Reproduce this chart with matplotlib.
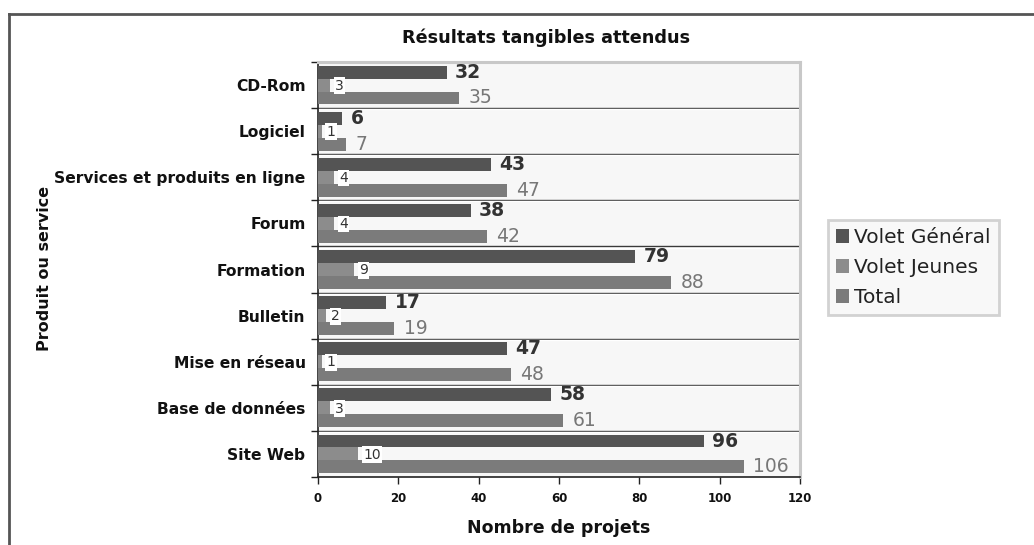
import matplotlib
matplotlib.use("Agg")
import matplotlib.pyplot as plt
from matplotlib.lines import Line2D
import numpy as np

plt.rcParams['font.family'] = ['DejaVu Sans']

categories = ["CD-Rom", "Logiciel", "Services et produits en ligne", "Forum",
              "Formation", "Bulletin", "Mise en réseau", "Base de données", "Site Web"]
general = [32, 6, 43, 38, 79, 17, 47, 58, 96]
jeunes = [3, 1, 4, 4, 9, 2, 1, 3, 10]
total = [35, 7, 47, 42, 88, 19, 48, 61, 106]
series_names = ["Volet Général", "Volet Jeunes", "Total"]
xticks = [0, 20, 40, 60, 80, 100, 120]

c_gen, c_jeu, c_tot = "#545454", "#8c8c8c", "#7b7b7b"

fig = plt.figure(figsize=(10.34, 5.45), dpi=100)
fig.patch.set_facecolor("white")
ax = fig.add_axes([318/1034, 1-477/545, (800-318)/1034, (477-62)/545])
ax.set_facecolor("#f7f7f7")

n = len(categories)
y = np.arange(n)
h = 0.28
ax.barh(y - h, general, height=h, color=c_gen, label=series_names[0], zorder=3)
ax.barh(y, jeunes, height=h, color=c_jeu, label=series_names[1], zorder=3)
ax.barh(y + h, total, height=h, color=c_tot, label=series_names[2], zorder=3)

for i in range(n):
    ax.annotate(str(general[i]), (general[i], y[i] - h), xytext=(6, 0), textcoords="offset points",
                va="center", ha="left", fontsize=13.5, fontweight="bold", color="#333333", zorder=5)
    ax.annotate(str(jeunes[i]), (jeunes[i], y[i]), xytext=(3.5, -0.5), textcoords="offset points",
                va="center", ha="left", fontsize=10, color="#333333", zorder=5,
                bbox=dict(boxstyle="square,pad=0.1", fc="white", ec="none"))
    ax.annotate(str(total[i]), (total[i], y[i] + h), xytext=(7, 0), textcoords="offset points",
                va="center", ha="left", fontsize=13.5, color="#777777", zorder=5)

ax.set_ylim(n - 0.5, -0.5)
ax.set_xlim(0, 120)
for b in np.arange(0.5, n - 0.5, 1):
    ax.axhline(b, color="#3a3a3a", lw=1.0, zorder=2)
    ax.axhline(b + 0.025, color="white", lw=1.0, zorder=2)

ax.set_yticks(y)
ax.set_yticklabels(categories, fontsize=11.2, fontweight="bold", color="#111111")
ax.set_yticks(np.arange(-0.5, n, 1), minor=True)
ax.tick_params(axis="y", which="major", length=0, pad=9)
ax.tick_params(axis="y", which="minor", length=5, width=1, color="#222222", direction="out")
ax.set_xticks(xticks)
ax.set_xticklabels([str(t) for t in xticks], fontsize=8.5, fontweight="bold", color="#111111")
ax.tick_params(axis="x", length=5, width=1, color="#222222", direction="out", pad=6)

for s in ["top", "right"]:
    ax.spines[s].set_color("#c8c8c8")
    ax.spines[s].set_linewidth(2.2)
for s in ["left", "bottom"]:
    ax.spines[s].set_color("#222222")
    ax.spines[s].set_linewidth(1.2)

fig.text(546/1034, 1-38/545, "Résultats tangibles attendus", ha="center", va="center",
         fontsize=12.7, fontweight="bold", color="#111111")
ax.set_xlabel("Nombre de projets", fontsize=12.5, fontweight="bold", labelpad=10, color="#111111")
fig.text(45/1034, 1-268/545, "Produit ou service", rotation=90, ha="center", va="center",
         fontsize=11.5, fontweight="bold", color="#111111")

leg = fig.legend(loc="upper left", bbox_to_anchor=(828/1034, 1-220/545), fontsize=14.5,
                 frameon=True, fancybox=False, handlelength=0.65, handleheight=0.65,
                 handletextpad=0.25, borderpad=0.4, labelspacing=0.55, borderaxespad=0)
leg.get_frame().set_edgecolor("#c8c8c8")
leg.get_frame().set_linewidth(2)
leg.get_frame().set_facecolor("#f7f7f7")
for t in leg.get_texts():
    t.set_color("#222222")

fig.add_artist(Line2D([9/1034, 1], [1-14/545, 1-14/545], color="#555555", lw=2, transform=fig.transFigure))
fig.add_artist(Line2D([9/1034, 9/1034], [1-14/545, 0], color="#555555", lw=2, transform=fig.transFigure))

fig.savefig("out.png", dpi=100)
